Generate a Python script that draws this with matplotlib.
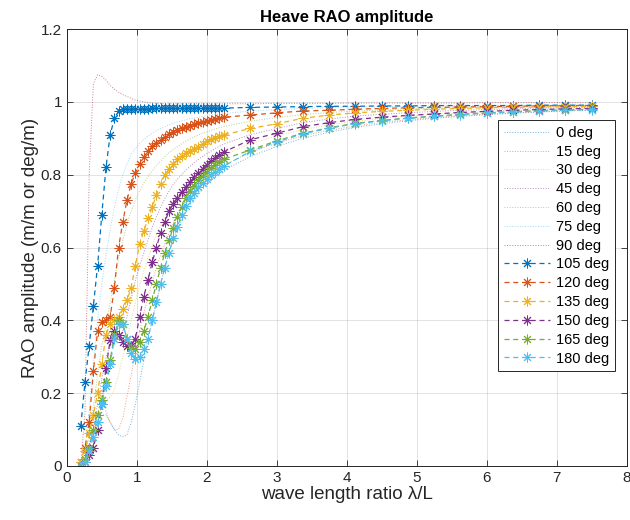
import matplotlib
matplotlib.use('Agg')
import matplotlib.pyplot as plt

plt.rcParams['font.family'] = ['Liberation Sans', 'DejaVu Sans']

# wave length ratio lambda/L: fine sampling up to ~2.25, coarse after
lam_ratio = [0.20, 0.26, 0.32, 0.38, 0.44, 0.50, 0.56,
             0.62, 0.68, 0.74, 0.80, 0.86, 0.92, 0.98,
             1.04, 1.10, 1.16, 1.22, 1.28, 1.34, 1.40,
             1.46, 1.52, 1.58, 1.64, 1.70, 1.76, 1.82,
             1.88, 1.94, 2.00, 2.06, 2.12, 2.18, 2.24,
             2.62, 3.00, 3.37, 3.75, 4.12, 4.50, 4.87,
             5.25, 5.62, 6.00, 6.37, 6.75, 7.12, 7.50]

headings = [0, 15, 30, 45, 60, 75, 90, 105, 120, 135, 150, 165, 180]

rao_0 = [0.00, 0.02, 0.05, 0.09, 0.12, 0.14, 0.14,
         0.12, 0.10, 0.085, 0.08, 0.085, 0.12, 0.17,
         0.23, 0.29, 0.35, 0.40, 0.45, 0.50, 0.545,
         0.585, 0.62, 0.65, 0.675, 0.697, 0.717, 0.733,
         0.748, 0.762, 0.774, 0.785, 0.795, 0.804, 0.812,
         0.85, 0.878, 0.90, 0.917, 0.93, 0.94, 0.948,
         0.955, 0.96, 0.965, 0.969, 0.972, 0.975, 0.977]
rao_15 = [0.00, 0.02, 0.06, 0.10, 0.14, 0.16, 0.15,
          0.12, 0.10, 0.10, 0.13, 0.19, 0.25, 0.31,
          0.37, 0.42, 0.465, 0.505, 0.545, 0.58, 0.61,
          0.64, 0.665, 0.688, 0.708, 0.726, 0.742, 0.756,
          0.769, 0.78, 0.791, 0.80, 0.809, 0.817, 0.825,
          0.862, 0.887, 0.907, 0.922, 0.934, 0.944, 0.951,
          0.957, 0.962, 0.967, 0.97, 0.973, 0.976, 0.978]
rao_30 = [0.00, 0.02, 0.05, 0.09, 0.13, 0.16, 0.18,
          0.19, 0.21, 0.25, 0.30, 0.35, 0.40, 0.45,
          0.495, 0.535, 0.57, 0.605, 0.635, 0.66, 0.685,
          0.706, 0.725, 0.742, 0.757, 0.771, 0.784, 0.795,
          0.806, 0.816, 0.825, 0.833, 0.841, 0.848, 0.855,
          0.885, 0.907, 0.924, 0.937, 0.947, 0.955, 0.961,
          0.966, 0.97, 0.974, 0.977, 0.979, 0.981, 0.983]
rao_45 = [0.00, 0.02, 0.05, 0.10, 0.17, 0.24, 0.30,
          0.33, 0.34, 0.35, 0.37, 0.41, 0.46, 0.51,
          0.55, 0.585, 0.62, 0.655, 0.685, 0.71, 0.735,
          0.755, 0.773, 0.788, 0.80, 0.812, 0.823, 0.833,
          0.842, 0.85, 0.858, 0.865, 0.872, 0.878, 0.884,
          0.91, 0.927, 0.943, 0.953, 0.961, 0.966, 0.97,
          0.974, 0.977, 0.979, 0.981, 0.983, 0.984, 0.985]
rao_60 = [0.00, 0.03, 0.08, 0.16, 0.25, 0.33, 0.39,
          0.45, 0.51, 0.57, 0.62, 0.665, 0.70, 0.73,
          0.755, 0.777, 0.795, 0.81, 0.825, 0.838, 0.85,
          0.86, 0.869, 0.877, 0.885, 0.892, 0.898, 0.904,
          0.909, 0.914, 0.918, 0.922, 0.926, 0.929, 0.932,
          0.947, 0.957, 0.965, 0.971, 0.975, 0.978, 0.981,
          0.983, 0.985, 0.986, 0.987, 0.988, 0.989, 0.99]
rao_75 = [0.00, 0.05, 0.15, 0.28, 0.40, 0.50, 0.58,
          0.65, 0.71, 0.76, 0.80, 0.83, 0.855, 0.872,
          0.886, 0.897, 0.906, 0.914, 0.921, 0.927, 0.932,
          0.937, 0.941, 0.945, 0.948, 0.951, 0.954, 0.956,
          0.958, 0.96, 0.962, 0.964, 0.965, 0.967, 0.968,
          0.975, 0.979, 0.982, 0.984, 0.986, 0.987, 0.988,
          0.989, 0.99, 0.99, 0.991, 0.991, 0.992, 0.992]
rao_90 = [0.00, 0.15, 0.80, 1.05, 1.075, 1.07, 1.06,
          1.045, 1.035, 1.027, 1.02, 1.015, 1.01, 1.005,
          1.002, 1.0, 0.998, 0.997, 0.996, 0.996, 0.995,
          0.995, 0.995, 0.995, 0.995, 0.995, 0.995, 0.995,
          0.995, 0.995, 0.995, 0.995, 0.995, 0.995, 0.995,
          0.995, 0.996, 0.996, 0.996, 0.997, 0.997, 0.997,
          0.997, 0.997, 0.998, 0.998, 0.998, 0.998, 0.998]
rao_105 = [0.11, 0.23, 0.33, 0.44, 0.55, 0.69, 0.82,
           0.91, 0.955, 0.975, 0.98, 0.981, 0.981, 0.981,
           0.981, 0.981, 0.981, 0.982, 0.982, 0.982, 0.982,
           0.982, 0.982, 0.982, 0.982, 0.983, 0.983, 0.983,
           0.983, 0.983, 0.983, 0.983, 0.983, 0.983, 0.983,
           0.985, 0.986, 0.987, 0.988, 0.988, 0.989, 0.989,
           0.99, 0.99, 0.99, 0.99, 0.991, 0.991, 0.991]
rao_120 = [0.01, 0.05, 0.12, 0.26, 0.37, 0.395, 0.40,
           0.41, 0.49, 0.60, 0.67, 0.73, 0.775, 0.805,
           0.83, 0.85, 0.865, 0.878, 0.888, 0.896, 0.904,
           0.911, 0.917, 0.922, 0.927, 0.931, 0.935, 0.939,
           0.942, 0.945, 0.948, 0.951, 0.954, 0.956, 0.958,
           0.964, 0.97, 0.975, 0.977, 0.98, 0.982, 0.984,
           0.985, 0.986, 0.987, 0.988, 0.989, 0.99, 0.99]
rao_135 = [0.01, 0.04, 0.09, 0.14, 0.20, 0.28, 0.36,
           0.39, 0.40, 0.41, 0.43, 0.455, 0.49, 0.55,
           0.61, 0.645, 0.68, 0.71, 0.745, 0.775, 0.80,
           0.815, 0.83, 0.842, 0.852, 0.86, 0.866, 0.872,
           0.877, 0.885, 0.892, 0.897, 0.902, 0.906, 0.909,
           0.927, 0.94, 0.955, 0.964, 0.97, 0.974, 0.977,
           0.98, 0.982, 0.984, 0.985, 0.986, 0.987, 0.988]
rao_150 = [0.00, 0.01, 0.03, 0.05, 0.10, 0.17, 0.27,
           0.345, 0.37, 0.36, 0.34, 0.33, 0.33, 0.35,
           0.41, 0.465, 0.51, 0.56, 0.60, 0.64, 0.67,
           0.70, 0.72, 0.737, 0.752, 0.767, 0.78, 0.793,
           0.805, 0.817, 0.828, 0.838, 0.847, 0.855, 0.862,
           0.896, 0.914, 0.932, 0.943, 0.952, 0.958, 0.963,
           0.967, 0.971, 0.974, 0.977, 0.979, 0.981, 0.982]
rao_165 = [0.00, 0.02, 0.05, 0.10, 0.14, 0.18, 0.23,
           0.29, 0.36, 0.40, 0.39, 0.35, 0.325, 0.32,
           0.34, 0.37, 0.41, 0.455, 0.50, 0.545, 0.585,
           0.62, 0.655, 0.685, 0.71, 0.735, 0.755, 0.77,
           0.785, 0.797, 0.808, 0.818, 0.827, 0.835, 0.842,
           0.868, 0.893, 0.914, 0.929, 0.941, 0.949, 0.956,
           0.961, 0.966, 0.97, 0.973, 0.976, 0.978, 0.98]
rao_180 = [0.00, 0.01, 0.04, 0.08, 0.12, 0.17, 0.22,
           0.28, 0.35, 0.39, 0.39, 0.35, 0.31, 0.295,
           0.30, 0.32, 0.35, 0.40, 0.45, 0.50, 0.545,
           0.585, 0.625, 0.657, 0.69, 0.715, 0.735, 0.75,
           0.765, 0.777, 0.788, 0.798, 0.808, 0.816, 0.823,
           0.864, 0.89, 0.912, 0.928, 0.94, 0.948, 0.955,
           0.96, 0.965, 0.969, 0.972, 0.975, 0.977, 0.979]

rao_series = [rao_0, rao_15, rao_30, rao_45, rao_60, rao_75, rao_90,
              rao_105, rao_120, rao_135, rao_150, rao_165, rao_180]

# MATLAB default colour order
colors = ['#0072BD', '#D95319', '#EDB120', '#7E2F8E', '#77AC30', '#4DBEEE', '#A2142F']
axis_col = '#262626'

fig = plt.figure(figsize=(6.3, 5.2), dpi=100)
ax = fig.add_axes([0.106, 0.104, 0.889, 0.840])

for i, (hd, rao) in enumerate(zip(headings, rao_series)):
    c = colors[i % len(colors)]
    if hd <= 90:
        ax.plot(lam_ratio, rao, linestyle=':', color=c, lw=0.7, alpha=0.55,
                label=f'{hd} deg')
    else:
        ax.plot(lam_ratio, rao, linestyle='--', dashes=(4, 3), color=c, lw=0.9,
                marker=(8, 2, 0), ms=7, mew=0.7, label=f'{hd} deg')

ax.set_xlim(0, 8)
ax.set_ylim(0, 1.2)
ax.set_xticks(range(0, 9))
ax.set_yticks([0, 0.2, 0.4, 0.6, 0.8, 1.0, 1.2])
ax.set_yticklabels(['0', '0.2', '0.4', '0.6', '0.8', '1', '1.2'])
ax.grid(True, color=axis_col, alpha=0.15, lw=0.6)
ax.tick_params(direction='in', top=True, right=True, length=4, width=0.6,
               labelsize=11, colors=axis_col)
for s in ax.spines.values():
    s.set_color(axis_col)
    s.set_linewidth(0.7)

ax.set_title('Heave RAO amplitude', fontsize=12, fontweight='bold', pad=5)
ax.set_xlabel('wave length ratio λ/L', fontsize=13.5, color=axis_col, labelpad=1)
ax.set_ylabel('RAO amplitude (m/m or deg/m)', fontsize=13.5, color=axis_col, labelpad=1)

leg = ax.legend(loc='upper right', bbox_to_anchor=(0.979, 0.792), fontsize=10.5,
                fancybox=False, framealpha=1, edgecolor=axis_col, handlelength=3.2,
                borderaxespad=0, labelspacing=0.33, borderpad=0.4, handletextpad=0.4)
leg.get_frame().set_linewidth(0.7)

fig.savefig('out.png', dpi=100)
